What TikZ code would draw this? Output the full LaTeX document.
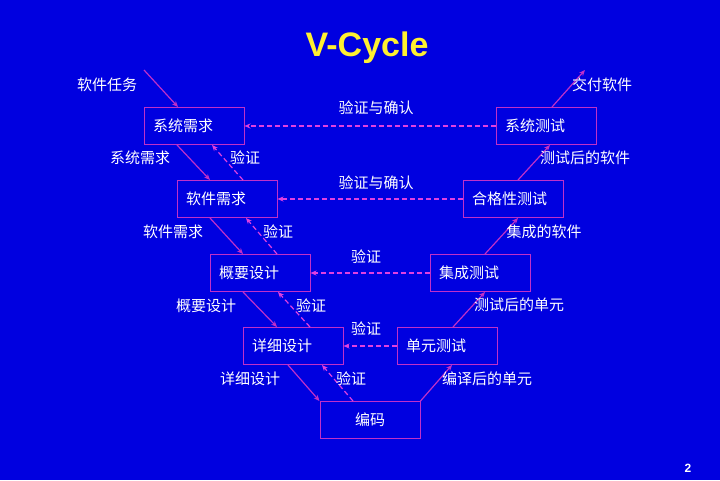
\documentclass[tikz,border=0pt]{standalone}
\usepackage{fontspec}
\setmainfont{Liberation Sans}
\newfontfamily\cjk{Noto Sans CJK SC}
\usetikzlibrary{arrows.meta}
\definecolor{bgblue}{HTML}{0000E0}
\definecolor{vline}{HTML}{C030C8}
\definecolor{vdash}{HTML}{E040E0}
\definecolor{titleyellow}{HTML}{FFF030}
\tikzset{
  phasebox/.style={draw=vline, line width=1pt, minimum height=37pt, text width=82pt,
    inner xsep=9pt, align=left, text=white, font=\cjk\fontsize{15}{18}\selectfont},
  lbl/.style={text=white, inner sep=0pt, font=\cjk\fontsize{15}{18}\selectfont},
  arr/.style={-{Stealth[length=6pt,width=5pt]}, line width=1.2pt, draw=vline},
  verarr/.style={arr, draw=vdash, dash pattern=on 5pt off 3pt}
}
\begin{document}
\begin{tikzpicture}[x=1pt, y=-1pt]
  \fill[bgblue] (0,0) rectangle (720,480);
  \useasboundingbox (0,0) rectangle (720,480);
  \node[text=titleyellow, font=\bfseries\fontsize{34}{40}\selectfont] (title) at (367,48) {V-Cycle};

  \node[phasebox] (sysreq) at (194,126) {系统需求};
  \node[phasebox] (swreq) at (227,199) {软件需求};
  \node[phasebox] (hldes) at (260,273) {概要设计};
  \node[phasebox] (dldes) at (293,346) {详细设计};
  \node[phasebox, align=center] (coding) at (370,420) {编码};
  \node[phasebox] (unittest) at (447,346) {单元测试};
  \node[phasebox] (inttest) at (480,273) {集成测试};
  \node[phasebox] (qualtest) at (513,199) {合格性测试};
  \node[phasebox] (systest) at (546,126) {系统测试};

  \coordinate (taskin) at (144,70);
  \coordinate (delivout) at (585,70);

  \draw[arr] (taskin) -- ([xshift=-16pt]sysreq.north);
  \draw[arr] ([xshift=-17pt]sysreq.south) -- ([xshift=-17pt]swreq.north);
  \draw[arr] ([xshift=-17pt]swreq.south) -- ([xshift=-17pt]hldes.north);
  \draw[arr] ([xshift=-17pt]hldes.south) -- ([xshift=-16pt]dldes.north);
  \draw[arr] ([xshift=-5pt]dldes.south) -- (coding.north west);
  \draw[arr] (coding.north east) -- ([xshift=5pt]unittest.south);
  \draw[arr] ([xshift=6pt]unittest.north) -- ([xshift=5pt]inttest.south);
  \draw[arr] ([xshift=5pt]inttest.north) -- ([xshift=5pt]qualtest.south);
  \draw[arr] ([xshift=5pt]qualtest.north) -- ([xshift=4pt]systest.south);
  \draw[arr] ([xshift=6pt]systest.north) -- (delivout);

  \draw[verarr] ([xshift=16pt]swreq.north) -- ([xshift=18pt]sysreq.south);
  \draw[verarr] ([xshift=17pt]hldes.north) -- ([xshift=19pt]swreq.south);
  \draw[verarr] ([xshift=17pt]dldes.north) -- ([xshift=18pt]hldes.south);
  \draw[verarr] ([xshift=-17pt]coding.north) -- ([xshift=29pt]dldes.south);
  \draw[verarr] (systest.west) -- (sysreq.east);
  \draw[verarr] (qualtest.west) -- (swreq.east);
  \draw[verarr] (inttest.west) -- (hldes.east);
  \draw[verarr] (unittest.west) -- (dldes.east);

  \node[lbl] (lbltask) at (107,85) {软件任务};
  \node[lbl] (lbldeliv) at (602,85) {交付软件};
  \node[lbl] (lblvv1) at (376,108) {验证与确认};
  \node[lbl] (lblsysreq) at (140,158) {系统需求};
  \node[lbl] (lblver1) at (245,158) {验证};
  \node[lbl] (lbltested) at (585,158) {测试后的软件};
  \node[lbl] (lblvv2) at (376,183) {验证与确认};
  \node[lbl] (lblswreq) at (173,232) {软件需求};
  \node[lbl] (lblver2) at (278,232) {验证};
  \node[lbl] (lblintsw) at (544,232) {集成的软件};
  \node[lbl] (lblver3) at (366,257) {验证};
  \node[lbl] (lblhldes) at (206,306) {概要设计};
  \node[lbl] (lblver4) at (311,306) {验证};
  \node[lbl] (lbltestunit) at (519,305) {测试后的单元};
  \node[lbl] (lblver5) at (366,329) {验证};
  \node[lbl] (lbldldes) at (250,379) {详细设计};
  \node[lbl] (lblver6) at (351,379) {验证};
  \node[lbl] (lblcompunit) at (487,379) {编译后的单元};

  \node[text=white, font=\bfseries\fontsize{12}{14}\selectfont] (pagenum) at (688,468) {2};
\end{tikzpicture}
\end{document}
